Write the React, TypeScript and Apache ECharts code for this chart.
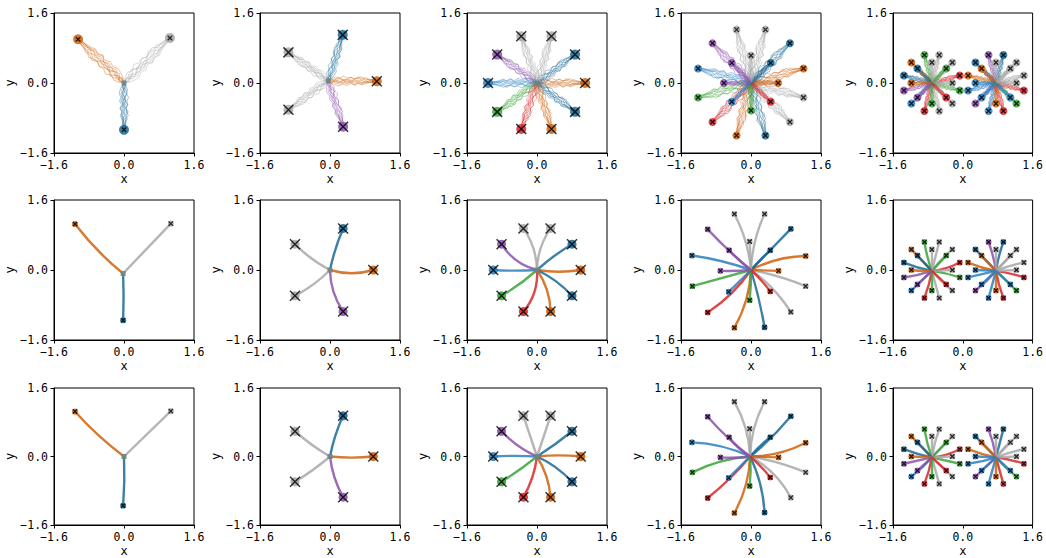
import React, { useEffect, useRef } from "react";
import * as echarts from "echarts";

// ---------- axis ----------
const AXIS_MIN = -1.6;
const AXIS_MAX = 1.6;
const AXIS_STEP = 1.6;

// ---------- palette ----------
const COLORS: Record<string, string> = {
  o: "#d0620c", // orange
  b: "#1b6a96", // dark blue
  l: "#2b7fc0", // light blue
  g: "#a8a8a8", // gray
  p: "#8c52ad", // purple
  n: "#3aa53a", // green
  r: "#d8282c", // red
};

// ---------- targets [x, y, colour, originIndex] ----------
const C1_R1 = [[-1.05, 1.0, "o"], [1.05, 1.03, "g"], [0, -1.07, "b"]];
const C1_R23 = [[-1.12, 1.05, "o"], [1.07, 1.06, "g"], [-0.02, -1.15, "b"]];

const C2_R1 = [[0.29, 1.1, "b"], [-0.95, 0.7, "g"], [1.07, 0.04, "o"], [-0.95, -0.61, "g"], [0.3, -1.0, "p"]];
const C2_R23 = [[0.3, 0.95, "b"], [-0.8, 0.59, "g"], [0.99, 0, "o"], [-0.8, -0.59, "g"], [0.3, -0.95, "p"]];

const C3_R1 = [
  [1.1, 0, "o"], [0.87, 0.65, "b"], [0.33, 1.07, "g"], [-0.36, 1.07, "g"], [-0.91, 0.65, "p"],
  [-1.12, 0, "l"], [-0.91, -0.66, "n"], [-0.36, -1.05, "r"], [0.33, -1.05, "o"], [0.87, -0.66, "b"],
];
const C3_R23 = [
  [1.0, 0, "o"], [0.8, 0.59, "b"], [0.31, 0.95, "g"], [-0.31, 0.95, "g"], [-0.81, 0.59, "p"],
  [-1.0, 0, "l"], [-0.81, -0.59, "n"], [-0.31, -0.95, "r"], [0.31, -0.95, "o"], [0.8, -0.59, "b"],
];

const C4_R1 = [
  [1.2, 0.33, "o"], [0.89, 0.91, "b"], [0.33, 1.22, "g"], [-0.33, 1.22, "g"], [-0.88, 0.91, "p"], [-1.21, 0.33, "l"],
  [-1.21, -0.33, "n"], [-0.88, -0.89, "r"], [-0.33, -1.2, "o"], [0.33, -1.2, "b"], [0.89, -0.89, "g"], [1.2, -0.33, "g"],
  [0.62, 0, "o"], [0.45, 0.46, "b"], [0, 0.63, "g"], [-0.44, 0.46, "p"], [-0.62, 0, "p"], [-0.44, -0.43, "l"],
  [0, -0.63, "n"], [0.45, -0.43, "r"],
];
const C4_R23 = [
  [1.25, 0.32, "o"], [0.91, 0.94, "b"], [0.31, 1.28, "g"], [-0.38, 1.28, "g"], [-0.99, 0.93, "p"], [-1.35, 0.33, "l"],
  [-1.34, -0.37, "n"], [-0.99, -0.97, "r"], [-0.38, -1.32, "o"], [0.31, -1.31, "b"], [0.91, -0.96, "g"], [1.25, -0.37, "g"],
  [0.63, -0.02, "o"], [0.44, 0.45, "b"], [-0.03, 0.65, "g"], [-0.5, 0.45, "p"], [-0.7, -0.02, "p"], [-0.51, -0.5, "l"],
  [-0.03, -0.69, "n"], [0.44, -0.49, "r"],
];

const C5_ALL = [
  [-0.07, 0.17, "r", 0], [-0.24, 0.47, "g", 0], [-0.54, 0.64, "g", 0], [-0.88, 0.64, "n", 0], [-1.18, 0.47, "o", 0],
  [-1.35, 0.17, "b", 0], [-1.35, -0.17, "p", 0], [-1.18, -0.47, "l", 0], [-0.88, -0.64, "r", 0], [-0.54, -0.64, "g", 0],
  [-0.24, -0.47, "g", 0], [-0.07, -0.17, "n", 0],
  [-0.24, 0, "g", 0], [-0.38, 0.33, "n", 0], [-0.71, 0.47, "g", 0], [-1.04, 0.33, "b", 0], [-1.18, 0, "o", 0],
  [-1.04, -0.33, "p", 0], [-0.71, -0.47, "n", 0], [-0.38, -0.33, "r", 0],
  [1.4, 0.17, "g", 1], [1.23, 0.47, "g", 1], [0.93, 0.64, "b", 1], [0.59, 0.64, "p", 1], [0.29, 0.47, "b", 1],
  [0.12, 0.17, "o", 1], [0.12, -0.17, "l", 1], [0.29, -0.47, "p", 1], [0.59, -0.64, "l", 1], [0.93, -0.64, "r", 1],
  [1.23, -0.47, "n", 1], [1.4, -0.17, "r", 1],
  [1.23, 0, "g", 1], [1.09, 0.33, "g", 1], [0.76, 0.47, "g", 1], [0.43, 0.33, "o", 1], [0.29, 0, "l", 1],
  [0.43, -0.33, "l", 1], [0.76, -0.47, "o", 1], [1.09, -0.33, "l", 1],
];

const TARGETS_R1 = [C1_R1, C2_R1, C3_R1, C4_R1, C5_ALL];
const TARGETS_R23 = [C1_R23, C2_R23, C3_R23, C4_R23, C5_ALL];

// ---------- start points ----------
const ORIGINS_R1 = [[[0, 0]], [[-0.04, 0.05]], [[0, 0]], [[0, 0]], [[-0.71, 0], [0.76, 0]]];
const ORIGINS_R2 = [[[-0.02, -0.08]], [[0, 0]], [[0, 0]], [[0, 0]], [[-0.71, -0.02], [0.76, -0.02]]];
const ORIGINS_R3 = [[[0, 0]], [[0, 0]], [[0, 0]], [[-0.02, 0]], [[-0.71, -0.02], [0.76, -0.02]]];

// ---------- path bend (curveness) for rows 2 and 3 ----------
const CURVE_R2 = [
  [0.06, 0, 0.02],
  [0.05, 0.08, -0.15, 0.08, -0.15],
  [-0.08, 0.05, 0.15, -0.15, 0.2, 0.03, 0.05, 0.2, 0.15, 0.1],
  [0.12, 0, 0.1, -0.1, 0.03, -0.05, 0, 0.1, 0.12, 0.03, 0.1, 0.05, 0, 0.03, 0, 0.05, 0.03, 0, 0.03, 0.05],
  [-0.1, 0.05, 0, 0.05, 0, 0.05, 0.05, 0, 0.05, 0, -0.05, 0.05, 0, 0, 0, 0, 0.05, 0, 0, 0,
    0.05, 0, 0.05, -0.05, 0, 0.05, 0, 0.05, 0, -0.05, 0, 0.05, 0, 0, 0, 0, 0, 0, 0, 0],
];
const CURVE_R3 = [
  [0.05, 0, 0.03],
  [0.06, 0.05, -0.05, 0.04, -0.1],
  [0.05, -0.03, 0, 0, 0.1, -0.03, 0.03, 0.1, 0.12, 0.1],
  [-0.12, -0.05, 0.12, -0.12, 0.05, -0.1, -0.1, 0.05, 0.12, 0.1, 0.15, 0.06, 0, 0.05, 0, 0.1, 0.05, 0, 0.05, 0.05],
  [-0.1, 0, 0.05, 0.05, 0, 0.05, 0, 0.05, 0.05, 0, 0, 0, 0, 0, 0, 0, 0, 0, 0, 0,
    0.05, 0.05, 0, -0.05, 0, 0.05, 0.05, 0, 0, 0, -0.05, 0.05, 0, 0, 0, 0, 0, 0, 0, 0],
];

// ---------- trial wobble of the row-1 bundles (perpendicular, in bundle half-widths) ----------
const WOBBLE = [
  [0, 0.35, -0.2, 0.5, 0.1, 0.3, 0.8, 0.45, 0.6, 0.9, 0.2, 0.4, 0.3, 0.05],
  [0, -0.4, -0.1, -0.7, -0.35, -0.6, -0.2, -0.9, -0.5, -0.6, -0.3, -0.2, -0.25, -0.05],
  [0, 0.5, 0.8, 0.45, 1.0, 0.6, 0.75, 0.4, 0.9, 0.5, 0.7, 0.35, 0.2, 0.1],
  [0, -0.15, 0.3, -0.1, -0.45, 0.1, -0.25, 0.15, -0.1, 0.2, -0.3, 0.1, -0.1, 0],
  [0, 0.2, -0.55, -0.3, 0.35, -0.15, 0.3, -0.2, 0.25, -0.4, -0.1, -0.15, 0.1, -0.05],
  [0, -0.55, -0.85, -1.0, -0.65, -0.95, -0.5, -0.75, -0.4, -0.8, -0.5, -0.3, -0.2, -0.1],
  [0, 0.1, 0.45, 0.7, 0.15, 0.4, 0.05, 0.35, 0.6, 0.2, 0.5, 0.2, 0.15, 0.08],
  [0, -0.3, 0.1, -0.35, 0.05, -0.4, -0.15, -0.45, -0.2, -0.35, 0.05, -0.25, -0.1, -0.08],
];
const BUNDLE_HALF_WIDTH = 0.1; // relative to path length

// ---------- layout ----------
const GRID_LEFT = [54, 260, 467, 681, 893];
const GRID_TOP = [13, 200, 388];
const GRID_SIZE = 140;
const FONT = "'DejaVu Sans Mono', monospace";
const BIG_X_COLS = [1, 2];
const X_SYMBOL = "path://M0,0L10,10M10,0L0,10";

function fmt(v: number) {
  return (v < 0 ? "\u2212" : "") + Math.abs(v).toFixed(1);
}

function buildOption() {
  const grids: any[] = [];
  const xAxes: any[] = [];
  const yAxes: any[] = [];
  const series: any[] = [];
  const originSets = [ORIGINS_R1, ORIGINS_R2, ORIGINS_R3];
  const curves = [null, CURVE_R2, CURVE_R3];

  for (let r = 0; r < 3; r++) {
    for (let c = 0; c < 5; c++) {
      const gi = r * 5 + c;
      grids.push({
        left: GRID_LEFT[c],
        top: GRID_TOP[r],
        width: GRID_SIZE,
        height: GRID_SIZE,
        show: true,
        borderColor: "#000",
        borderWidth: 1,
        backgroundColor: "transparent",
      });
      const axisCommon = {
        type: "value",
        gridIndex: gi,
        min: AXIS_MIN,
        max: AXIS_MAX,
        interval: AXIS_STEP,
        nameLocation: "middle",
        nameTextStyle: { fontFamily: FONT, fontSize: 12, color: "#000" },
        axisLine: { show: true, onZero: false, lineStyle: { color: "#000", width: 1 } },
        axisTick: { show: true, length: 3.5, lineStyle: { color: "#000", width: 1 } },
        axisLabel: { margin: 6, formatter: fmt, fontFamily: FONT, fontSize: 11.5, color: "#000" },
        splitLine: { show: false },
      };
      xAxes.push({ ...axisCommon, name: "x", nameGap: 20 });
      yAxes.push({ ...axisCommon, name: "y", nameGap: 34 });

      const targets: any[] = r === 0 ? TARGETS_R1[c] : TARGETS_R23[c];
      const origins = originSets[r][c];
      const big = BIG_X_COLS.includes(c);

      if (r === 0) {
        const data: any[] = [];
        targets.forEach((t) => {
          const o = origins[t[3] || 0];
          const dx = t[0] - o[0];
          const dy = t[1] - o[1];
          const len = Math.hypot(dx, dy);
          const px = -dy / len;
          const py = dx / len;
          const amp = BUNDLE_HALF_WIDTH * len;
          WOBBLE.forEach((w) => {
            const coords = w.map((v, i) => {
              const f = i / (w.length - 1);
              return [o[0] + dx * f + px * v * amp, o[1] + dy * f + py * v * amp];
            });
            data.push({ coords, lineStyle: { color: COLORS[t[2]] } });
          });
        });
        series.push({
          type: "lines",
          coordinateSystem: "cartesian2d",
          xAxisIndex: gi,
          yAxisIndex: gi,
          polyline: true,
          silent: true,
          lineStyle: { width: 0.8, opacity: 0.5 },
          data,
          z: 2,
        });
      } else {
        const cv = (curves[r] as number[][])[c];
        series.push({
          type: "lines",
          coordinateSystem: "cartesian2d",
          xAxisIndex: gi,
          yAxisIndex: gi,
          silent: true,
          lineStyle: { width: 2.4, opacity: 0.85 },
          data: targets.map((t, i) => ({
            coords: [origins[t[3] || 0], [t[0], t[1]]],
            lineStyle: { color: COLORS[t[2]], curveness: cv[i] || 0 },
          })),
          z: 2,
        });
      }

      // coloured blob at each target
      series.push({
        type: "scatter",
        xAxisIndex: gi,
        yAxisIndex: gi,
        silent: true,
        symbol: "circle",
        symbolSize: r === 0 ? (c >= 3 ? 8 : 10) : big ? 9 : 6,
        itemStyle: { opacity: r === 0 ? 0.85 : 0.9 },
        data: targets.map((t) => ({ value: [t[0], t[1]], itemStyle: { color: COLORS[t[2]] } })),
        z: 3,
      });
      // black cross
      series.push({
        type: "scatter",
        xAxisIndex: gi,
        yAxisIndex: gi,
        silent: true,
        symbol: X_SYMBOL,
        symbolSize: big ? 10 : 4.5,
        itemStyle: { color: "none", borderColor: "#000", borderWidth: big ? 1.5 : 1.3 },
        data: targets.map((t) => [t[0], t[1]]),
        z: 4,
      });
      // start marker
      if (c < 3) {
        series.push({
          type: "scatter",
          xAxisIndex: gi,
          yAxisIndex: gi,
          silent: true,
          symbol: "rect",
          symbolSize: 5,
          itemStyle: { color: "#6f8585", opacity: 0.9 },
          data: origins,
          z: 3,
        });
      }
    }
  }

  return {
    animation: false,
    backgroundColor: "#fff",
    grid: grids,
    xAxis: xAxes,
    yAxis: yAxes,
    series,
  };
}

export default function App() {
  const ref = useRef<HTMLDivElement>(null);
  useEffect(() => {
    document.body.style.margin = "0";
    const chart = echarts.init(ref.current!, null, { renderer: "svg" });
    chart.setOption(buildOption() as any);
    return () => chart.dispose();
  }, []);
  return <div ref={ref} style={{ width: 1046, height: 558 }} />;
}
